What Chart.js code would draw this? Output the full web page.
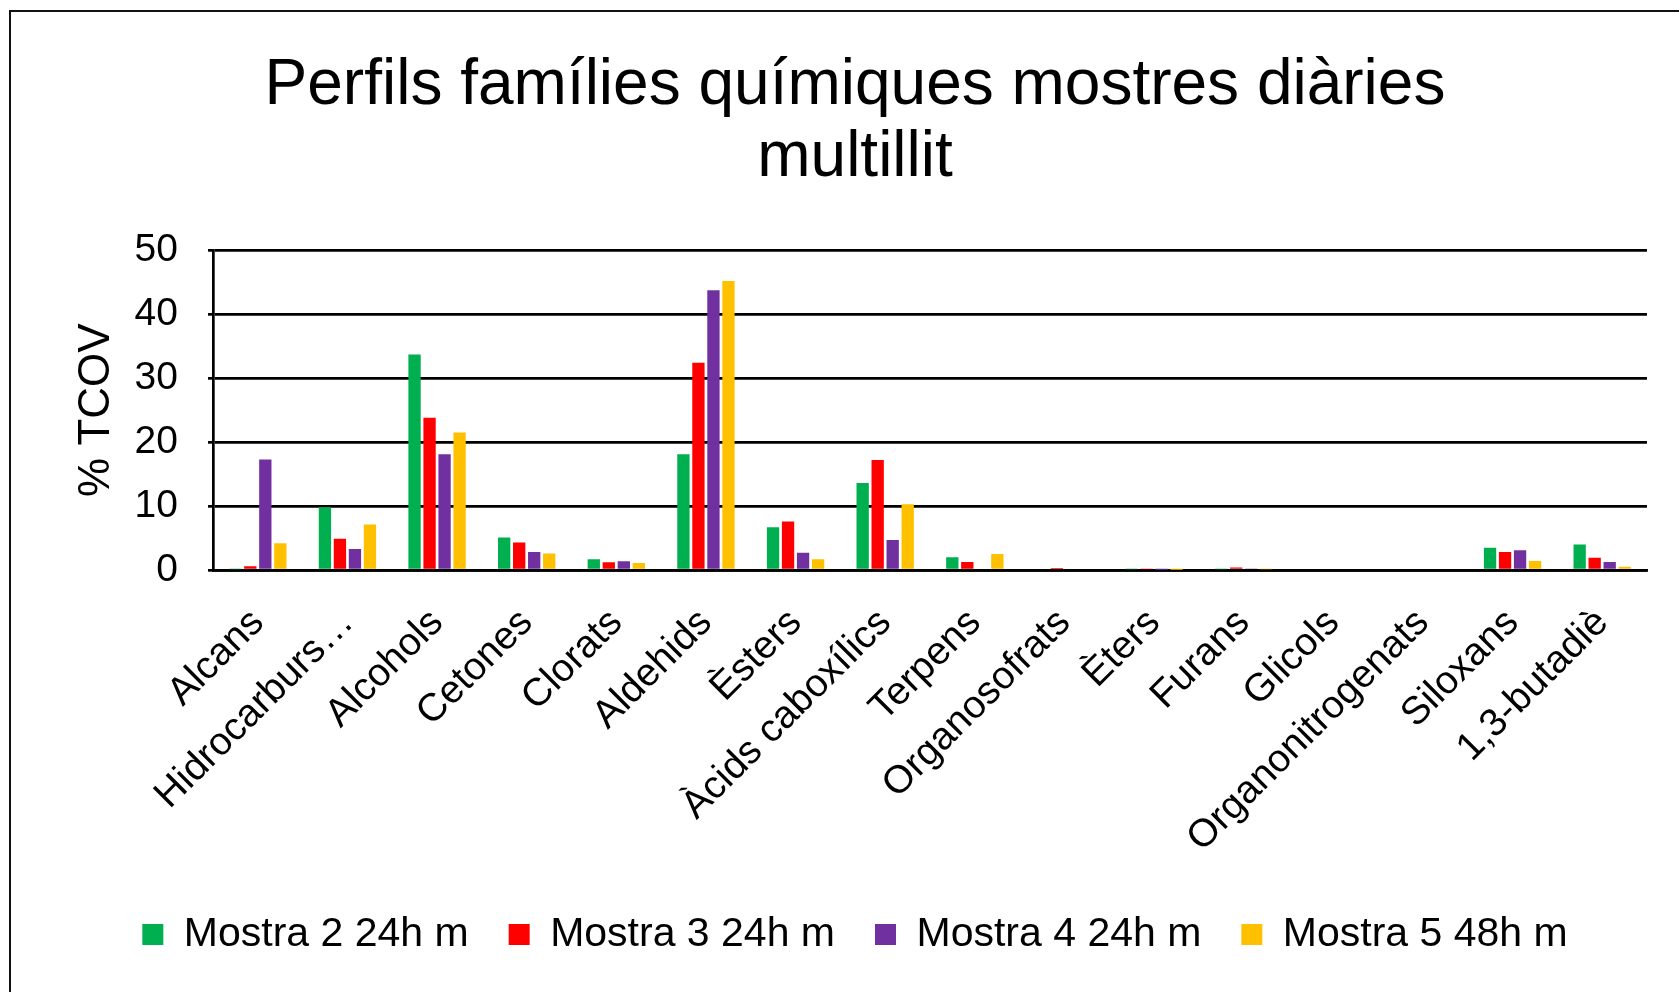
<!DOCTYPE html>
<html>
<head>
<meta charset="utf-8">
<script src="https://cdn.jsdelivr.net/npm/chart.js@4.4.1/dist/chart.umd.min.js"></script>
<style>
  html, body { margin: 0; padding: 0; background: #fff; overflow: hidden; }
  #marc { position: absolute; left: 9px; top: 10px; width: 2000px; height: 2000px; border: 2.5px solid #111; }
  #grafica { position: absolute; left: 0; top: 0; }
</style>
</head>
<body>
<div id="marc"></div>
<canvas id="grafica" width="1679" height="992"></canvas>
<script>
const categories = ["Alcans", "Hidrocarburs…", "Alcohols", "Cetones", "Clorats", "Aldehids", "Èsters",
  "Àcids caboxílics", "Terpens", "Organosofrats", "Èters", "Furans", "Glicols", "Organonitrogenats",
  "Siloxans", "1,3-butadiè"];
const mostra2 = [0.1, 9.8, 33.7, 5.1, 1.7, 18.1, 6.7, 13.6, 2.0, 0, 0.1, 0.1, 0, 0, 3.5, 4.0];
const mostra3 = [0.6, 4.9, 23.8, 4.3, 1.2, 32.4, 7.6, 17.2, 1.25, 0.3, 0.1, 0.4, 0, 0, 2.8, 1.9];
const mostra4 = [17.3, 3.3, 18.1, 2.8, 1.35, 43.75, 2.7, 4.7, 0.2, 0, 0.05, 0.15, 0, 0, 3.1, 1.25];
const mostra5 = [4.2, 7.1, 21.5, 2.6, 1.1, 45.2, 1.7, 10.3, 2.5, 0, 0.05, 0.1, 0, 0, 1.4, 0.5];
const etiquetesY = [0, 10, 20, 30, 40, 50];

const font = "'Liberation Sans', Arial, sans-serif";
Chart.defaults.color = "#000";
Chart.defaults.font.family = font;

function serie(label, data, color) {
  return { label: label, data: data, backgroundColor: color, borderWidth: 0 };
}

new Chart(document.getElementById("grafica"), {
  type: "bar",
  data: {
    labels: categories,
    datasets: [
      serie("Mostra 2 24h m", mostra2, "#00B050"),
      serie("Mostra 3 24h m", mostra3, "#FF0000"),
      serie("Mostra 4 24h m", mostra4, "#7030A0"),
      serie("Mostra 5 48h m", mostra5, "#FFC000")
    ]
  },
  options: {
    responsive: false,
    animation: false,
    categoryPercentage: 0.67,
    barPercentage: 0.82,
    layout: { padding: { left: 63, right: 32, top: 12, bottom: 27 } },
    plugins: {
      title: {
        display: true,
        text: ["Perfils famílies químiques mostres diàries", "multillit"],
        font: { size: 64, weight: "normal", lineHeight: 1.12 },
        color: "#000",
        padding: { top: 39, bottom: 56 }
      },
      legend: {
        position: "bottom",
        labels: {
          boxWidth: 21,
          boxHeight: 21,
          padding: 40,
          font: { size: 41 },
          color: "#000"
        }
      },
      tooltip: { enabled: false }
    },
    scales: {
      x: {
        grid: { display: false, drawTicks: false },
        border: { color: "#000", width: 2.7 },
        ticks: {
          autoSkip: false,
          maxRotation: 45,
          minRotation: 45,
          padding: 30,
          font: { size: 39 }
        },
        afterFit: function(scale) { scale.height = 304; }
      },
      y: {
        min: 0,
        max: 50,
        afterBuildTicks: function(scale) {
          scale.ticks = etiquetesY.map(v => ({ value: v }));
        },
        grid: { color: "#000", lineWidth: 2.7, tickLength: 5, tickColor: "#000" },
        border: { color: "#000", width: 2.7 },
        ticks: { padding: 30, font: { size: 39 } },
        title: {
          display: true,
          text: "% TCOV",
          font: { size: 44 },
          padding: { top: 7, bottom: 0 }
        },
        afterFit: function(scale) { scale.width = 150; }
      }
    }
  }
});
</script>
</body>
</html>
